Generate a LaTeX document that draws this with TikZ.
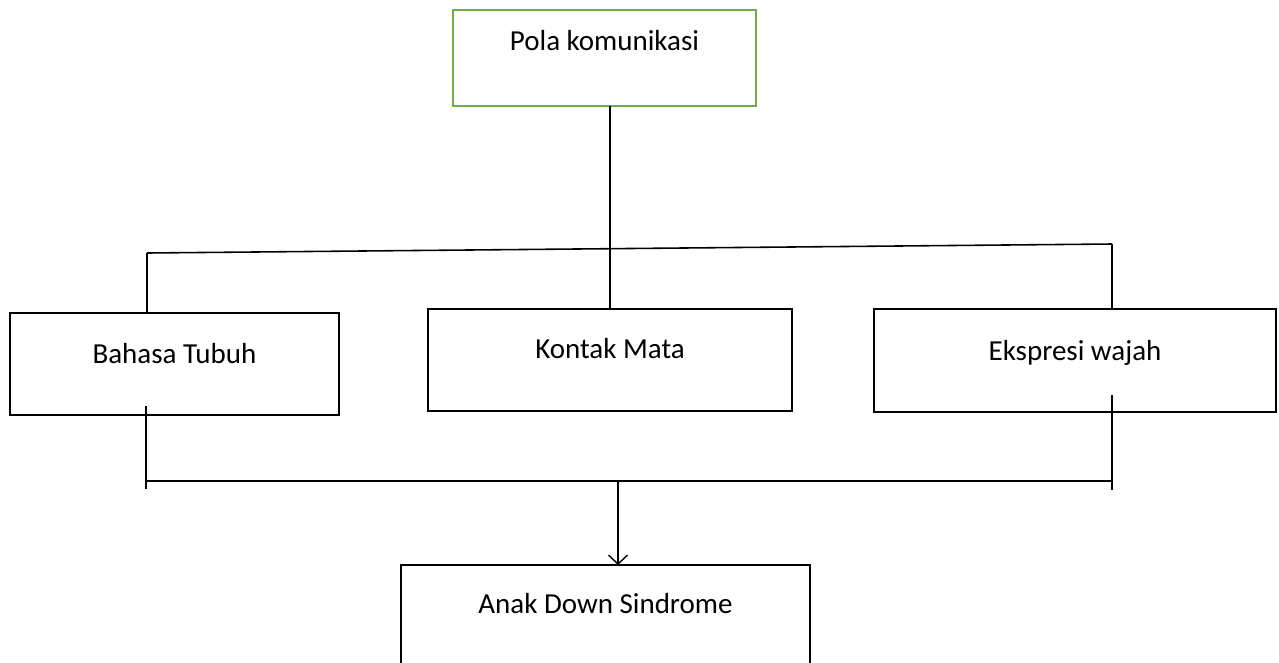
\documentclass[tikz,border=0pt]{standalone}
\usepackage{fontspec}
\setmainfont{Carlito}
\usepackage{xcolor}
\usetikzlibrary{arrows.meta, calc}
\definecolor{polagreen}{RGB}{112, 173, 71}

\begin{document}
\begin{tikzpicture}[
        box/.style={rectangle, draw, line width=1.6pt, inner sep=0pt, outer sep=0pt, anchor=north, align=center, font=\fontsize{16.5}{20}\selectfont},
        link/.style={line width=1.1pt},
        arrow/.style={line width=0.8pt, -{Straight Barb[length=0.18cm, width=0.38cm, line width=0.8pt]}}
    ]
        \clip (0,0) rectangle (25.58,-13.24);

        \node[box, draw=polagreen, minimum width=6.06cm, text height=0.8cm, text depth=1.12cm] (pola) at (12.09,-0.2) {Pola komunikasi};
        \node[box, minimum width=6.58cm, text height=1.0cm, text depth=1.04cm] (bahasa) at (3.49,-6.26) {Bahasa Tubuh};
        \node[box, minimum width=7.28cm, text height=0.98cm, text depth=1.06cm] (kontak) at (12.2,-6.18) {Kontak Mata};
        \node[box, minimum width=8.04cm, text height=1.02cm, text depth=1.04cm] (ekspresi) at (21.5,-6.18) {Ekspresi wajah};
        \node[box, minimum width=8.18cm, text height=0.96cm, text depth=1.4cm] (anak) at (12.11,-11.3) {Anak Down Sindrome};

        \coordinate (topL) at (2.94,-5.06);
        \coordinate (topR) at (22.24,-4.88);
        \coordinate (lowL) at (2.92,-9.62);
        \coordinate (lowR) at (22.24,-9.62);
        \coordinate (lowM) at (12.36,-9.62);

        \draw[link, line width=0.9pt] (topL) -- (topR);
        \draw[link] (pola.south -| kontak.north) -- (kontak.north);
        \draw[link] (topL) -- (topL |- bahasa.north);
        \draw[link] (topR) -- (topR |- ekspresi.north);

        \draw[link] ($(lowL)+(0,1.5)$) -- ($(lowL)+(0,-0.16)$);
        \draw[link] ($(lowR)+(0,1.72)$) -- ($(lowR)+(0,-0.18)$);
        \draw[link] (lowL) -- (lowR);
        \draw[arrow] (lowM) -- (lowM |- anak.north);
    \end{tikzpicture}
\end{document}
